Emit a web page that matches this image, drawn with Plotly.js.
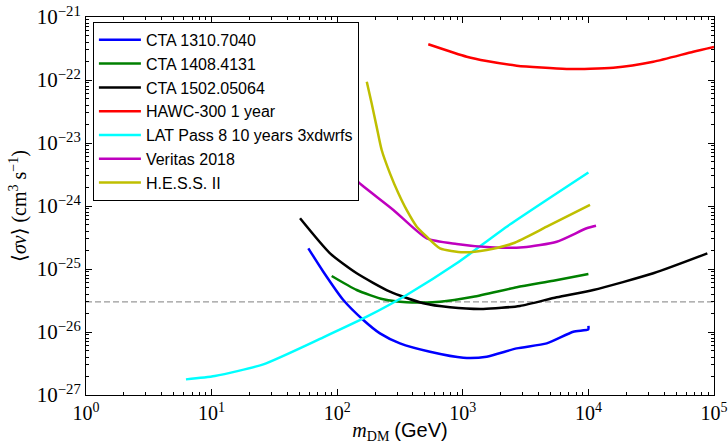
<!DOCTYPE html>
<html>
<head>
<meta charset="utf-8">
<script src="https://cdn.plot.ly/plotly-3.0.1.min.js"></script>
<style>html,body{margin:0;padding:0;background:#fff}#chart{width:728px;height:444px}</style>
</head>
<body>
<div id="chart"></div>
<script>
// ---- data (mass in GeV, <sigma v> in cm^3 s^-1) ----
const ctaA_x = [58.9, 77.5, 111.9, 161.4, 219, 316, 548, 1009, 1550, 2687, 4656, 7586, 9977, 10000];
const ctaA_y = [2.13e-25, 9.06e-26, 3.22e-26, 1.55e-26, 9.5e-27, 6.6e-27, 4.86e-27, 3.91e-27, 4.06e-27, 5.5e-27, 6.6e-27, 1.01e-26, 1.1e-26, 1.25e-26];

const ctaB_x = [90.4, 143, 233, 357, 658, 1213, 2687, 5260, 10000];
const ctaB_y = [7.74e-26, 4.64e-26, 3.3e-26, 2.96e-26, 3.03e-26, 3.63e-26, 5.13e-26, 6.52e-26, 8.34e-26];

const ctaC_x = [50.6, 87.7, 143, 263, 485, 791, 1456, 2853, 5594, 10940, 32880, 88500];
const ctaC_y = [6.38e-25, 1.77e-25, 8.55e-26, 4.37e-26, 2.86e-26, 2.47e-26, 2.32e-26, 2.59e-26, 3.56e-26, 4.64e-26, 8.55e-26, 1.77e-25];

const hawc_x = [531, 1074, 1550, 2687, 6714, 15780, 32880, 68400, 100000];
const hawc_y = [3.69e-22, 2.34e-22, 2.0e-22, 1.69e-22, 1.5e-22, 1.57e-22, 1.95e-22, 2.81e-22, 3.34e-22];

const lat_x = [6.25, 10.6, 25.8, 77.5, 172, 357, 894, 2237, 10000];
const lat_y = [1.77e-27, 2.0e-27, 3.07e-27, 8.24e-27, 1.75e-26, 3.87e-26, 1.23e-25, 4.69e-25, 3.4e-24];

const ver_x = [130, 156.7, 280, 516, 894, 1648, 3034, 5594, 9690, 11500];
const ver_y = [3.0e-24, 2.15e-24, 8.65e-25, 3.07e-25, 2.5e-25, 2.21e-25, 2.21e-25, 2.71e-25, 4.43e-25, 4.86e-25];

const hess_x = [172, 188, 206, 226, 263, 307, 357, 430, 516, 658, 1009, 1550, 2523, 4656, 10300];
const hess_y = [9.4e-23, 4.27e-23, 1.82e-23, 7.74e-24, 3.3e-24, 1.59e-24, 8.65e-25, 4.69e-25, 3.26e-25, 2.13e-25, 1.84e-25, 2.0e-25, 2.56e-25, 4.69e-25, 1.04e-24];

const thermal_x = [1, 100000];
const thermal_y = [3e-26, 3e-26];

const seriesNames = ['CTA 1310.7040', 'CTA 1408.4131', 'CTA 1502.05064', 'HAWC-300 1 year',
                     'LAT Pass 8 10 years 3xdwrfs', 'Veritas 2018', 'H.E.S.S. II'];

const xTickVals = [1, 10, 100, 1000, 10000, 100000];
const xTickText = ['10<sup>0</sup>', '10<sup>1</sup>', '10<sup>2</sup>', '10<sup>3</sup>', '10<sup>4</sup>', '10<sup>5</sup>'];
const yTickVals = [1e-27, 1e-26, 1e-25, 1e-24, 1e-23, 1e-22, 1e-21];
const yTickText = ['10<sup>−27</sup>', '10<sup>−26</sup>', '10<sup>−25</sup>', '10<sup>−24</sup>', '10<sup>−23</sup>', '10<sup>−22</sup>', '10<sup>−21</sup>'];

// ---- styling ----
const colors = ['#0000ff', '#008000', '#000000', '#ff0000', '#00ffff', '#bf00bf', '#bfbf00'];
const xs = [ctaA_x, ctaB_x, ctaC_x, hawc_x, lat_x, ver_x, hess_x];
const ys = [ctaA_y, ctaB_y, ctaC_y, hawc_y, lat_y, ver_y, hess_y];

const traces = [{
  x: thermal_x, y: thermal_y, mode: 'lines', showlegend: false, hoverinfo: 'skip',
  line: {color: '#999999', width: 1.3, dash: '6px,3px'}
}];
seriesNames.forEach((n, i) => {
  traces.push({
    x: xs[i], y: ys[i], name: n, mode: 'lines',
    line: {color: colors[i], width: 2.5, shape: 'spline', smoothing: 0.6}
  });
});

function minorVals(lo, hi) {
  const v = [];
  for (let e = lo; e < hi; e++) for (let k = 2; k <= 9; k++) v.push(k * Math.pow(10, e));
  return v;
}

const serif = 'Liberation Serif, DejaVu Serif, serif';
const sans = 'Liberation Sans, Arial, sans-serif';

const axisCommon = {
  type: 'log', showgrid: false, zeroline: false,
  showline: true, linecolor: '#000', linewidth: 1, mirror: 'allticks',
  ticks: 'inside', ticklen: 6, tickcolor: '#000', tickwidth: 1,
  tickmode: 'array',
  tickfont: {family: serif, size: 21, color: '#000'}
};

const layout = {
  width: 728, height: 444,
  margin: {l: 86, r: 14, t: 17, b: 49},
  paper_bgcolor: '#fff', plot_bgcolor: '#fff',
  showlegend: true,
  legend: {
    x: 0.011, y: 0.987, xanchor: 'left', yanchor: 'top',
    bgcolor: '#fff', bordercolor: '#000', borderwidth: 1,
    font: {family: sans, size: 16, color: '#000'},
    itemwidth: 42, entrywidth: 226
  },
  xaxis: Object.assign({}, axisCommon, {
    range: [0, 5], tickvals: xTickVals, ticktext: xTickText,
    tickfont: {family: serif, size: 20, color: '#000'},
    minor: {tickmode: 'array', tickvals: minorVals(0, 5), ticks: 'inside', ticklen: 3, tickcolor: '#000', showgrid: false},
    title: {text: '<i>m</i><sub>DM</sub> <span style="font-family:Liberation Sans">(GeV)</span>',
            font: {family: serif, size: 20, color: '#000'}, standoff: 4}
  }),
  yaxis: Object.assign({}, axisCommon, {
    range: [-27, -21], tickvals: yTickVals, ticktext: yTickText,
    minor: {tickmode: 'array', tickvals: minorVals(-27, -21), ticks: 'inside', ticklen: 3, tickcolor: '#000', showgrid: false},
    title: {text: '⟨<i>σv</i>⟩ (cm<sup>3</sup> s<sup>−1</sup>)',
            font: {family: serif, size: 20, color: '#000'}, standoff: 4}
  })
};

Plotly.newPlot('chart', traces, layout, {displayModeBar: false, staticPlot: true});
</script>
</body>
</html>
